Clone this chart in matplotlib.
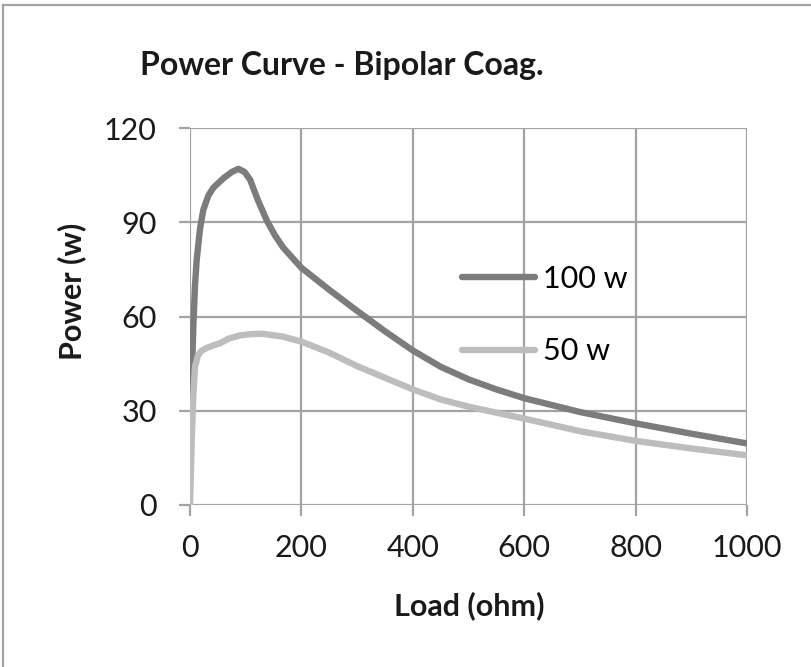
import matplotlib.pyplot as plt
from matplotlib.lines import Line2D

plt.rcParams['font.family'] = ['Lato', 'DejaVu Sans']

# load (ohm) vs delivered power (w)
load_100 = [2, 4, 6, 9, 12, 18, 24, 33, 42, 60, 75, 87, 98, 108, 122, 138, 152,
            167, 200, 250, 300, 350, 400, 450, 500, 550, 600, 700, 800, 900, 1000]
power_100 = [30, 45, 57, 70, 78, 88, 94, 98.5, 101, 104, 106, 107, 106, 103.5, 97,
             90.5, 86, 82, 75.5, 68.5, 61.8, 55.3, 49.2, 44, 40, 36.8, 34, 29.6,
             26, 22.7, 19.6]

load_50 = [0, 3, 6, 9, 14, 20, 30, 42, 54, 70, 90, 110, 130, 167, 200, 250, 300,
           350, 400, 450, 500, 600, 700, 800, 900, 1000]
power_50 = [0, 20, 35, 44, 47.5, 49, 50, 50.8, 51.5, 53, 54, 54.4, 54.5, 53.6, 52,
            48.5, 44.2, 40.5, 36.8, 33.6, 31.3, 27.5, 23.5, 20.4, 18, 15.8]

labels = ['100 w', '50 w']
x_ticks = [0, 200, 400, 600, 800, 1000]
y_ticks = [0, 30, 60, 90, 120]

W, H = 812, 667
fig = plt.figure(figsize=(W / 100, H / 100), dpi=100)
ax = fig.add_axes([190 / W, 1 - 505 / H, (747 - 190) / W, (505 - 128) / H])

dark = '#7b7c7e'
light = '#bcbdbf'
grid = '#a3a3a3'
ink = '#1a1a1a'

ax.plot(load_100, power_100, color=dark, lw=4.6, solid_capstyle='round',
        solid_joinstyle='round', zorder=3)
ax.plot(load_50, power_50, color=light, lw=4.6, solid_capstyle='round',
        solid_joinstyle='round', zorder=4)

ax.set_xlim(0, 1000)
ax.set_ylim(0, 120)
ax.set_xticks(x_ticks)
ax.set_yticks(y_ticks)
ax.grid(True, color=grid, lw=1.6)
ax.set_axisbelow(True)
for s in ax.spines.values():
    s.set_visible(False)
ax.tick_params(axis='both', length=8, width=1.6, color=grid, labelsize=22,
               labelcolor=ink)
ax.tick_params(axis='y', pad=16)
ax.tick_params(axis='x', pad=13)

handles = [Line2D([], [], color=dark, lw=4.6, solid_capstyle='round'),
           Line2D([], [], color=light, lw=4.6, solid_capstyle='round')]
ax.legend(handles, labels, loc='upper left',
          bbox_to_anchor=((462 - 190) / 557, 1 - (265 - 128) / 377),
          frameon=False, fontsize=22, handlelength=2.4, handletextpad=0.25,
          labelspacing=1.45, borderaxespad=0, borderpad=0)

fig.text(342 / W, 1 - 66 / H, 'Power Curve - Bipolar Coag.', fontsize=23,
         fontweight='bold', ha='center', va='center', color=ink)
fig.text(72 / W, 1 - 291 / H, 'Power (w)', fontsize=22, fontweight='bold',
         rotation=90, ha='center', va='center', color=ink)
fig.text(469 / W, 1 - 606 / H, 'Load (ohm)', fontsize=22, fontweight='bold',
         ha='center', va='center', color=ink)

# frame lines along the top and left edges
fig.add_artist(Line2D([3 / W, 1], [1 - 5 / H, 1 - 5 / H], color=grid, lw=1.6,
                      transform=fig.transFigure))
fig.add_artist(Line2D([3 / W, 3 / W], [0, 1 - 5 / H], color=grid, lw=1.6,
                      transform=fig.transFigure))

fig.savefig('out.png', dpi=100)
